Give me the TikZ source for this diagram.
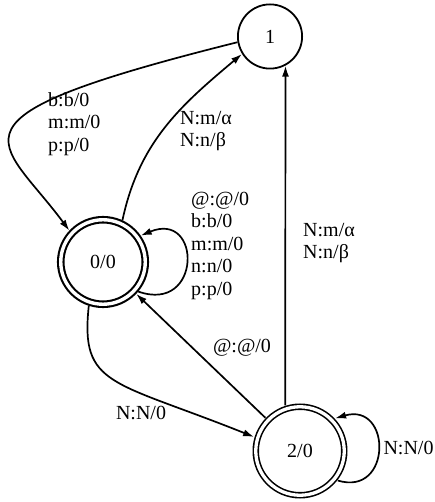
\documentclass[tikz,border=0pt]{standalone}
\usepackage{fontspec}
\setmainfont{Liberation Serif}
\usetikzlibrary{arrows.meta}

\begin{document}
\begin{tikzpicture}[
                x = 1pt, y = 1pt,
                every node/.style = {font = \fontsize{20}{22.5}\selectfont},
                state/.style = {draw, circle, line width = 1.8pt, inner sep = 0mm, minimum size = 64.2pt},
                final/.style = {draw, circle, double, inner sep = 0mm, outer sep = 3.7pt},
                lbl/.style = {align = left, inner sep = 0mm, anchor = west},
                arr/.style = {draw, line width = 1.7pt, -{Latex[length = 11pt, width = 7pt]}},
            ]
            \useasboundingbox (0,0) rectangle (435,502);

            \node (one) [state] at (270,465.5){1};
            \node (zero) [final, line width = 2.1pt, double distance = 3.4pt, minimum size = 84.5pt] at (103,240){0/0};
            \node (two) [final, line width = 1.6pt, double distance = 3.3pt, minimum size = 88.5pt] at (300,51){2/0};

            \node (lbA) [lbl] at (48,378){b:b/0\\m:m/0\\p:p/0};
            \node (lbB) [lbl] at (180,371){N:m/α\\N:n/β};
            \node (lbC) [lbl] at (191,256.5){@:@/0\\b:b/0\\m:m/0\\n:n/0\\p:p/0};
            \node (lbD) [lbl] at (303,259){N:m/α\\N:n/β};
            \node (lbE) at (242,154.5){@:@/0};
            \node (lbF) at (141,89){N:N/0};
            \node (lbG) at (408.5,54){N:N/0};

            \path[arr] (one.190) .. controls (-70,383) and (0,365) .. (zero.137);
            \path[arr] (zero.65) to[out=78, in=220] (one.212);
            \path[arr] (zero.-40) .. controls (202,188) and (202,292) .. (zero.35);
            \path[arr] (zero.252) .. controls (80,115) and (112,122) .. (two.163);
            \path[arr] (two) -- (zero);
            \path[arr] (two.108) -- (one.298);
            \path[arr] (two.-38) .. controls (392,5) and (392,100) .. (two.43);
        \end{tikzpicture}
\end{document}
